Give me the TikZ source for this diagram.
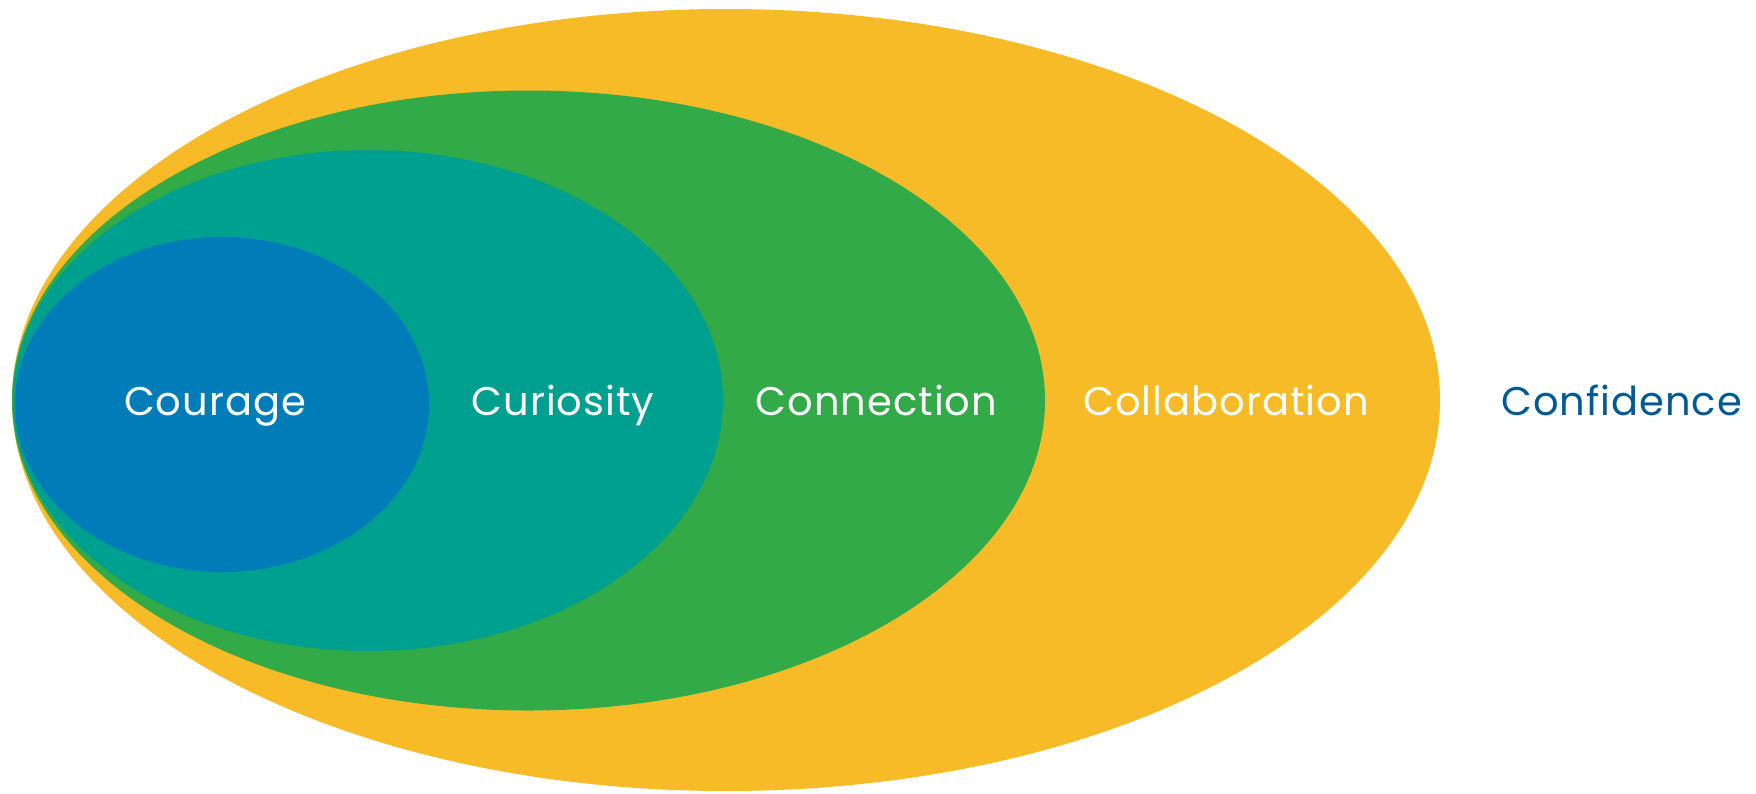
\documentclass[tikz,border=0pt]{standalone}
\usepackage{fontspec}
\setmainfont{Poppins}
\newfontfamily\lblfont[LetterSpace=2.5]{Poppins}
\usepackage{tikz}

\definecolor{yellowc}{HTML}{F6BB26}
\definecolor{greenc}{HTML}{32AA48}
\definecolor{tealc}{HTML}{00A091}
\definecolor{bluec}{HTML}{007DB8}
\definecolor{textc}{HTML}{005A96}

\tikzset{
  lbl/.style={anchor=base, inner sep=0pt, text=white, font=\lblfont\fontsize{40}{48}\selectfont},
}

\begin{document}
\begin{tikzpicture}[x=1pt, y=-1pt]

\useasboundingbox (0,0) rectangle (1756,793);

% rings, from outside in
\fill[yellowc] (726,400) ellipse [x radius=714, y radius=391];
\fill[greenc] (528.5,400.5) ellipse [x radius=516.5, y radius=310];
\fill[tealc] (368,400.5) ellipse [x radius=355, y radius=250.5];
\fill[bluec] (222,404.5) ellipse [x radius=207, y radius=167.5];

\node[lbl] (courage) at (215,415) {Courage};
\node[lbl] (curiosity) at (563,415) {Curiosity};
\node[lbl] (connection) at (876.5,415) {Connection};
\node[lbl] (collab) at (1226,415) {Collaboration};
\node[lbl, text=textc] (confidence) at (1621.5,415) {Confidence};

\end{tikzpicture}
\end{document}
